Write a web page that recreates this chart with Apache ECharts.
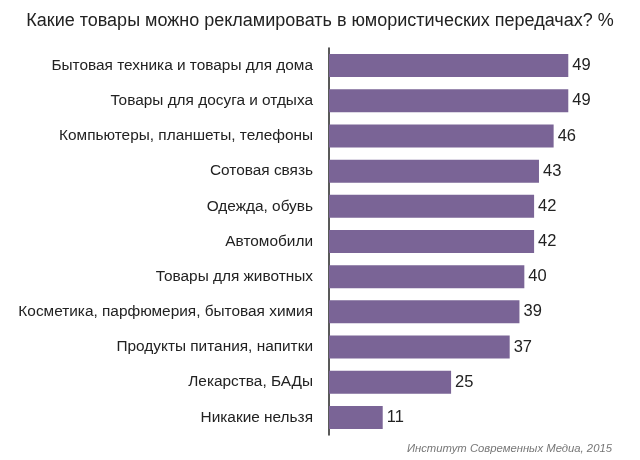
<!DOCTYPE html>
<html><head><meta charset="utf-8">
<script src="https://cdn.jsdelivr.net/npm/echarts@6/dist/echarts.min.js"></script>
<style>html,body{margin:0;padding:0;background:#fff}#c{width:640px;height:460px}</style>
</head><body><div id="c"></div>
<script>
const categories = [
  "Бытовая техника и товары для дома",
  "Товары для досуга и отдыха",
  "Компьютеры, планшеты, телефоны",
  "Сотовая связь",
  "Одежда, обувь",
  "Автомобили",
  "Товары для животных",
  "Косметика, парфюмерия, бытовая химия",
  "Продукты питания, напитки",
  "Лекарства, БАДы",
  "Никакие нельзя"
];
const values = [49, 49, 46, 43, 42, 42, 40, 39, 37, 25, 11];
const titleText = "Какие товары можно рекламировать в юмористических передачах? %";
const sourceText = "Институт Современных Медиа, 2015";

const chart = echarts.init(document.getElementById('c'), null, {renderer: 'canvas'});
chart.setOption({
  backgroundColor: '#ffffff',
  animation: false,
  title: [{
    text: titleText, left: 'center', top: 7,
    textStyle: {fontFamily: 'Liberation Sans', fontSize: 18, fontWeight: 'normal', color: '#222'}
  }, {
    text: sourceText, right: 23, top: 438,
    textStyle: {fontFamily: 'Liberation Sans', fontSize: 11.3, fontStyle: 'italic', fontWeight: 'normal', color: '#777'}
  }],
  grid: {left: 329, top: 48, width: 293, height: 387, containLabel: false},
  xAxis: {type: 'value', min: 0, max: 60, show: false},
  yAxis: {
    type: 'category', data: categories, inverse: true,
    axisLine: {show: true, lineStyle: {color: '#222', width: 1.5}},
    axisTick: {show: false},
    axisLabel: {margin: 16, fontFamily: 'Liberation Sans', fontSize: 15.4, color: '#222'}
  },
  series: [{
    type: 'bar', data: values, barWidth: 23,
    itemStyle: {color: '#7a6496'},
    label: {show: true, position: 'right', distance: 4, fontFamily: 'Liberation Sans', fontSize: 16.5, color: '#222'}
  }]
});
</script></body></html>
